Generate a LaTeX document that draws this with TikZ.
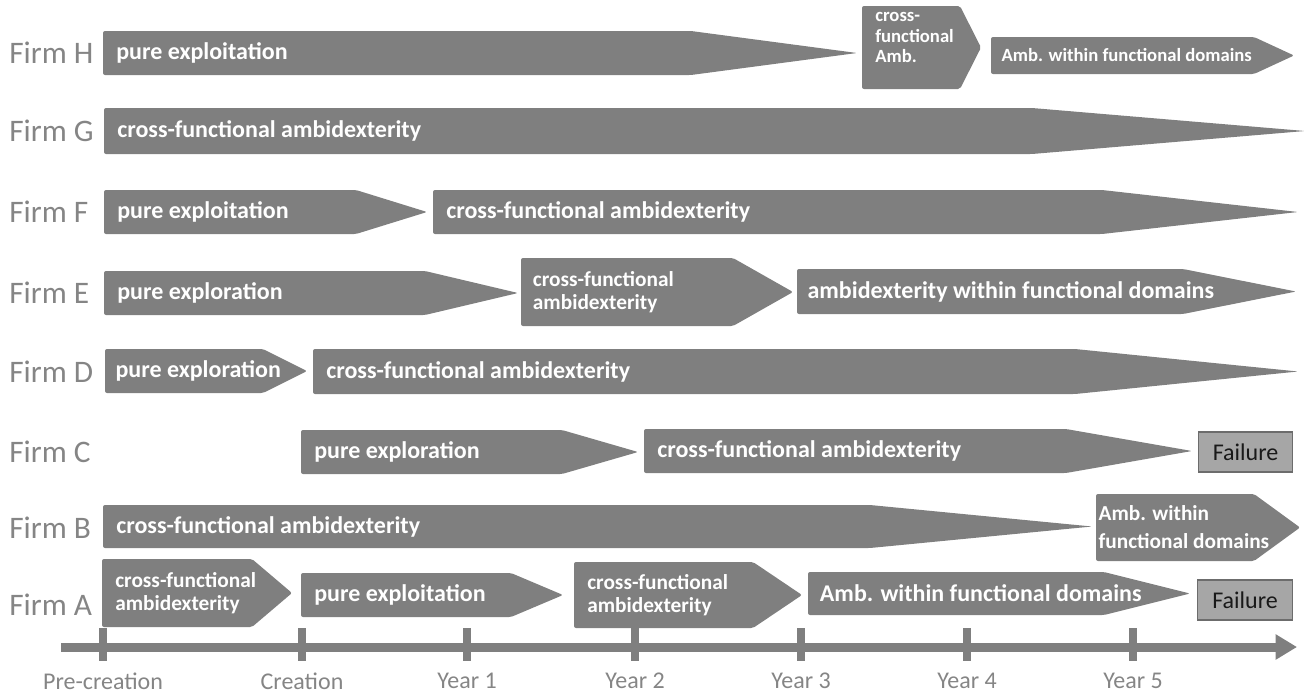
\documentclass[tikz,border=0pt]{standalone}
\usepackage{fontspec}
\setmainfont{Carlito}
\usetikzlibrary{arrows.meta}
\definecolor{barg}{HTML}{7F7F7F}
\definecolor{labg}{HTML}{858585}
\definecolor{failg}{HTML}{A6A6A6}
\tikzset{
  barfill/.style={fill=barg, rounded corners=1.5pt},
  bartext/.style={text=white, font=\bfseries\fontsize{18}{21}\selectfont, anchor=west, inner sep=0pt, align=left},
  smalltext/.style={font=\bfseries\fontsize{16}{17.5}\selectfont},
  tinytext/.style={font=\bfseries\fontsize{14}{15.5}\selectfont},
  firmlab/.style={text=labg, font=\fontsize{23.5}{27}\selectfont, anchor=west, inner sep=0pt},
  ticklab/.style={text=labg, font=\fontsize{18}{21}\selectfont, inner sep=0pt},
  failbox/.style={fill=failg, draw=barg!85!black, line width=0.8pt, minimum width=71pt, minimum height=30pt, inner sep=0pt, text=black!90, font=\fontsize{18}{21}\selectfont},
  axisline/.style={draw=barg, line width=6.75pt, -{Triangle[length=16pt,width=18pt]}},
  tickmark/.style={draw=barg, line width=6pt}
}
% #1 name, #2 left, #3 rect end, #4 tip, #5 top, #6 bottom, #7 extra text style, #8 text
\newcommand\phase[8]{%
  \fill[barfill] (#2,#5) -- (#3,#5) -- (#4,{(#5+#6)/2}) -- (#3,#6) -- (#2,#6) -- cycle;
  \node[bartext,#7] (#1) at ({#2+13},{(#5+#6)/2}) {#8};
}
\begin{document}
\begin{tikzpicture}[x=0.75pt,y=-0.75pt]
\useasboundingbox (0,0) rectangle (1308,693);

% firm labels
\node[firmlab] (lH) at (9,53)  {Firm H};
\node[firmlab] (lG) at (9,131) {Firm G};
\node[firmlab] (lF) at (9,212) {Firm F};
\node[firmlab] (lE) at (9,293) {Firm E};
\node[firmlab] (lD) at (9,372) {Firm D};
\node[firmlab] (lC) at (9,452) {Firm C};
\node[firmlab] (lB) at (9,528) {Firm B};
\node[firmlab] (lA) at (9,605) {Firm A};

% Firm H
\phase{h1}{103}{691}{857}{31}{75}{}{pure exploitation}
\phase{h2}{862}{960}{981}{6}{89}{tinytext,yshift=7.5pt}{cross-\\functional\\Amb.}
\phase{h3}{991}{1254}{1294}{37}{74}{tinytext,xshift=-2pt}{Amb. within functional domains}

% Firm G
\phase{g1}{104}{1032}{1305}{108}{154}{}{cross-functional ambidexterity}

% Firm F
\phase{f1}{104}{356}{427}{190}{234}{}{pure exploitation}
\phase{f2}{433}{1102}{1298}{190}{234}{}{cross-functional ambidexterity}

% Firm E
\phase{e1}{104}{425}{518}{271}{315}{}{pure exploration}
\phase{e2}{521}{733}{793}{258}{326}{smalltext,xshift=-1pt}{cross-functional\\ambidexterity}
\phase{e3}{797}{1183}{1296}{269}{314}{xshift=-2pt}{ambidexterity within functional domains}

% Firm D
\phase{d1}{105}{263}{307}{349}{393}{xshift=-2pt}{pure exploration}
\phase{d2}{313}{1075}{1298}{349}{394}{}{cross-functional ambidexterity}

% Firm C
\phase{c1}{301}{562}{638}{430}{474}{}{pure exploration}
\phase{c2}{644}{1066}{1192}{429}{473}{}{cross-functional ambidexterity}
\node[failbox] (cfail) at (1245.5,452) {Failure};

% Firm B
\phase{b1}{103}{870}{1092}{505}{548}{}{cross-functional ambidexterity}
\phase{b2}{1096}{1254}{1300}{494}{561}{font=\bfseries\fontsize{16}{21}\selectfont,xshift=-8pt}{Amb. within\\functional domains}

% Firm A
\phase{a1}{102}{252}{292}{559}{627}{smalltext}{cross-functional\\ambidexterity}
\phase{a2}{301}{511}{563}{573}{617}{}{pure exploitation}
\phase{a3}{574}{753}{802}{562}{628}{smalltext}{cross-functional\\ambidexterity}
\phase{a4}{808}{1104}{1190}{572}{615}{xshift=-1pt}{Amb. within functional domains}
\node[failbox] (afail) at (1245,600) {Failure};

% time axis
\coordinate (axs) at (61,647);
\coordinate (axe) at (1297,647);
\draw[axisline] (axs) -- (axe);
\foreach \n/\x/\t in {t0/103/Pre-creation, t1/302/Creation, t2/467/Year 1, t3/635/Year 2, t4/801/Year 3, t5/967/Year 4, t6/1133/Year 5}{
  \draw[tickmark] (\x,628) -- (\x,661);
  \node[ticklab] (\n) at (\x,681) {\t};
}
\end{tikzpicture}
\end{document}
